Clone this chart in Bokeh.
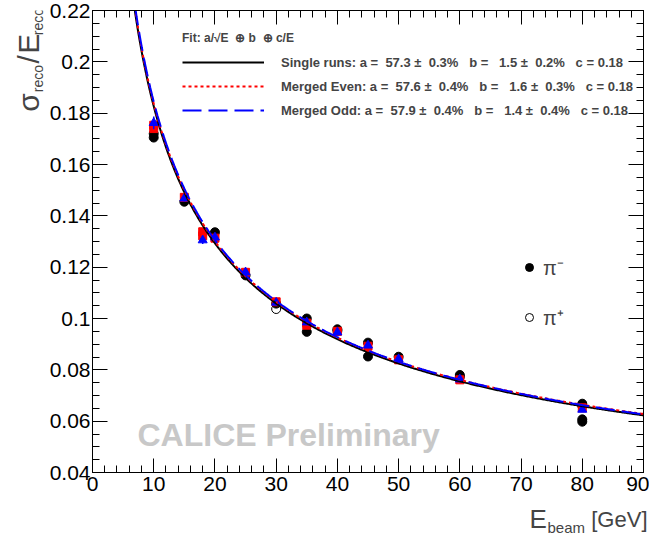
import numpy as np
from bokeh.plotting import figure
from bokeh.layouts import row, column
from bokeh.models import (LinearAxis, Label, Legend, LegendItem, FixedTicker,
                          CustomJSTickFormatter, ColumnDataSource, Range1d)
from bokeh.embed import file_html
from bokeh.resources import INLINE
from bokeh.core.properties import value

# ---------------- data ----------------
# pi- single runs (filled black circles)
E_single = [10, 10, 15, 20, 25, 30, 35, 35, 40, 40, 45, 45, 50, 60, 60, 80, 80, 80, 80]
res_single = [0.1720, 0.1705, 0.1455, 0.1336, 0.1168, 0.1058, 0.1000, 0.0948, 0.0958, 0.0952,
              0.0906, 0.0852, 0.0851, 0.0780, 0.0773, 0.0668, 0.0660, 0.0607, 0.0598]
# pi+ (open circles)
E_piplus = [30]
res_piplus = [0.1037]
# merged even (red squares)
E_even = [10, 10, 15, 18, 18, 20, 25, 30, 35, 35, 40, 45, 50, 60, 80]
res_even = [0.1753, 0.1740, 0.1472, 0.1338, 0.1322, 0.1313, 0.1180, 0.1065, 0.0982, 0.0974,
            0.0950, 0.0892, 0.0839, 0.0761, 0.0652]
err_even = [0.0015, 0.0015, 0.0010, 0.0012, 0.0012, 0.0010, 0.0008, 0.0008, 0.0008, 0.0008,
            0.0007, 0.0007, 0.0006, 0.0006, 0.0006]
# merged odd (blue triangles)
E_odd = [10, 15, 18, 20, 25, 30, 35, 40, 45, 50, 60, 80]
res_odd = [0.1762, 0.1468, 0.1305, 0.1316, 0.1180, 0.1062, 0.0985, 0.0946, 0.0895, 0.0842,
           0.0763, 0.0645]
err_odd = [0.0025, 0.0012, 0.0015, 0.0010, 0.0008, 0.0008, 0.0008, 0.0007, 0.0007, 0.0006,
           0.0006, 0.0006]

# fit parameters: sigma/E = a/sqrt(E) (+) b (+) c/E
fit_names = ["Single runs", "Merged Even", "Merged Odd"]
fit_a = [57.3, 57.6, 57.9]      # %
fit_da = [0.3, 0.4, 0.4]
fit_b = [1.5, 1.6, 1.4]         # %
fit_db = [0.2, 0.3, 0.4]
fit_c = [0.18, 0.18, 0.18]
E_fit_min, E_fit_max = 5.0, 90.0

x_ticks = [0, 10, 20, 30, 40, 50, 60, 70, 80, 90]
y_ticks = [0.04, 0.06, 0.08, 0.10, 0.12, 0.14, 0.16, 0.18, 0.20, 0.22]

# ---------------- styles / layout ----------------
W, H = 649, 535
LEFT_W = 46          # strip holding the y-axis title
BOT_H = 33           # strip holding the x-axis title
FL, FR, FT, FB = 92, 643, 10, 472     # frame in page pixels
X0, X1, Y0, Y1 = 0.0, 90.0, 0.04, 0.22
FONT = "Liberation Sans"

def sx(px):
    return px - FL

def sy(py):
    return FB - py

MW, MH = W - LEFT_W, H - BOT_H
p = figure(width=MW, height=MH, x_range=(X0, X1), y_range=(Y0, Y1),
           output_backend="svg", toolbar_location=None,
           min_border_left=FL - LEFT_W, min_border_right=W - FR,
           min_border_top=FT, min_border_bottom=MH - FB)
p.xgrid.visible = False
p.ygrid.visible = False
p.outline_line_color = "black"
p.outline_line_width = 1
p.background_fill_color = "white"
p.border_fill_color = "white"

x_minor = [v for v in np.arange(0, 90.01, 2.0)]
y_minor = [round(v, 4) for v in np.arange(0.04, 0.2201, 0.005)]
xt = FixedTicker(ticks=x_ticks, minor_ticks=x_minor)
yt = FixedTicker(ticks=y_ticks, minor_ticks=y_minor)
yfmt = CustomJSTickFormatter(code="return parseFloat(tick.toFixed(2)).toString();")
empty = CustomJSTickFormatter(code="return '';")

def style_axis(ax, ticker, major_len):
    ax.ticker = ticker
    ax.major_tick_in = major_len
    ax.major_tick_out = 0
    ax.minor_tick_in = major_len // 2
    ax.minor_tick_out = 0
    ax.axis_line_color = "black"
    ax.major_tick_line_color = "black"
    ax.minor_tick_line_color = "black"
    ax.major_label_text_font = FONT
    ax.major_label_text_font_size = "21px"
    ax.major_label_text_color = "black"

style_axis(p.xaxis[0], xt, 14)
p.xaxis[0].major_label_standoff = 4
style_axis(p.yaxis[0], yt, 15)
p.yaxis[0].formatter = yfmt
p.yaxis[0].major_label_standoff = 2

top = LinearAxis()
style_axis(top, xt, 14)
top.formatter = empty
top.major_label_standoff = 0
top.major_label_text_font_size = "1px"
p.add_layout(top, "above")
right = LinearAxis()
style_axis(right, yt, 15)
right.formatter = empty
right.major_label_standoff = 0
right.major_label_text_font_size = "1px"
p.add_layout(right, "right")

# ---------------- data points ----------------
src_s = ColumnDataSource(dict(x=E_single, y=res_single))
src_p = ColumnDataSource(dict(x=E_piplus, y=res_piplus))
src_e = ColumnDataSource(dict(x=E_even, y=res_even,
                              lo=[v - e for v, e in zip(res_even, err_even)],
                              hi=[v + e for v, e in zip(res_even, err_even)]))
src_o = ColumnDataSource(dict(x=E_odd, y=res_odd,
                              lo=[v - e for v, e in zip(res_odd, err_odd)],
                              hi=[v + e for v, e in zip(res_odd, err_odd)]))

r_minus = p.scatter("x", "y", source=src_s, marker="circle", size=9,
                    fill_color="black", line_color="black")
r_plus = p.scatter("x", "y", source=src_p, marker="circle", size=9,
                   fill_color="white", fill_alpha=0, line_color="black", line_width=1)
p.segment("x", "lo", "x", "hi", source=src_e, line_color="#ff0000", line_width=1.5)
p.scatter("x", "y", source=src_e, marker="square", size=8,
          fill_color="#ff0000", line_color="#ff0000")
p.segment("x", "lo", "x", "hi", source=src_o, line_color="#0000ff", line_width=1.5)
p.scatter("x", "y", source=src_o, marker="triangle", size=9,
          fill_color="#0000ff", line_color="#0000ff")

# ---------------- fit curves ----------------
E_fit = np.linspace(E_fit_min, E_fit_max, 500)
curve_styles = [dict(line_color="black", line_width=2),
                dict(line_color="#ff0000", line_width=2, line_dash="3 3"),
                dict(line_color="#0000ff", line_width=2, line_dash="19 7")]
fit_renderers = []
for a, b, c, st in zip(fit_a, fit_b, fit_c, curve_styles):
    res = np.sqrt((a / 100.0) ** 2 / E_fit + (b / 100.0) ** 2 + (c / E_fit) ** 2)
    fit_renderers.append(p.line(E_fit, res, **st))

NB = "\u00a0"
items = []
for name, a, da, b, db, c, r in zip(fit_names, fit_a, fit_da, fit_b, fit_db, fit_c, fit_renderers):
    txt = (f"{name}: a ={NB} {a:.1f} \u00b1{NB} {da:.1f}%{NB}{NB} b ={NB}{NB} {b:.1f} \u00b1{NB} "
           f"{db:.1f}%{NB}{NB} c = {c:.2f}")
    items.append(LegendItem(label=value(txt), renderers=[r]))

leg = Legend(items=items, location=(182 - FL, FB - 120),
             title=f"Fit: a/\u221aE {NB}\u2295 b {NB}\u2295 c/E",
             title_text_font=FONT, title_text_font_style="bold", title_text_font_size="12px",
             title_standoff=7,
             label_text_font=FONT, label_text_font_style="bold", label_text_font_size="13px",
             glyph_width=82, glyph_height=20, label_height=20, label_standoff=17,
             spacing=4, padding=0, margin=0,
             border_line_alpha=0, background_fill_alpha=0)
p.add_layout(leg)

leg2 = Legend(items=[LegendItem(label=value("\u03c0\u207b"), renderers=[r_minus]),
                     LegendItem(label=value("\u03c0\u207a"), renderers=[r_plus])],
              location=(519 - FL, FB - 331),
              label_text_font=FONT, label_text_font_size="20px",
              glyph_width=20, glyph_height=28, label_height=28, label_standoff=4,
              spacing=22, padding=0, margin=0,
              border_line_alpha=0, background_fill_alpha=0)
p.add_layout(leg2)

p.add_layout(Label(x=sx(137), y=sy(434), x_units="screen", y_units="screen",
                   text="CALICE Preliminary", text_font=FONT,
                   text_font_style="bold", text_font_size="32px", text_color="#c8c8c8",
                   text_baseline="alphabetic", text_align="left"))

# ---------------- axis-title strips ----------------
def strip(w, h, x_range, y_range):
    f = figure(width=w, height=h, x_range=x_range, y_range=y_range,
               output_backend="svg", toolbar_location=None,
               x_axis_type=None, y_axis_type=None, min_border=0)
    f.outline_line_color = None
    f.background_fill_color = "white"
    f.border_fill_color = "white"
    f.xgrid.visible = False
    f.ygrid.visible = False
    return f

# y title strip: coordinates = page pixels (y downward); pieces centred on (cx, cy)
ystrip = strip(LEFT_W, MH, Range1d(0, LEFT_W), Range1d(MH, 0))
ypieces = [("\u03c3", 28, 100, "30px"), ("reco", 37, 74, "14px"), ("/", 28, 53, "30px"),
           ("E", 28, 36, "30px"), ("reco", 37, 12, "14px")]
for t, cx, cy, fs in ypieces:
    ystrip.add_layout(Label(x=cx, y=cy, text=t, text_font=FONT, text_font_size=fs,
                            angle=np.pi / 2, text_baseline="middle", text_align="center"))

# x title strip: coordinates = page pixels
xstrip = strip(W, BOT_H, Range1d(0, W), Range1d(H, MH))
xt_pieces = [("E", 529, 518, "26px", "left"), ("beam", 547, 527, "15px", "left"),
             ("[GeV]", 647, 519, "22px", "right")]
for t, bx, cy, fs, al in xt_pieces:
    xstrip.add_layout(Label(x=bx, y=cy, text=t, text_font=FONT, text_font_size=fs,
                            text_baseline="middle", text_align=al))

layout = column(row(ystrip, p, spacing=0), xstrip, spacing=0)
open("out.html", "w").write(file_html(layout, INLINE))
